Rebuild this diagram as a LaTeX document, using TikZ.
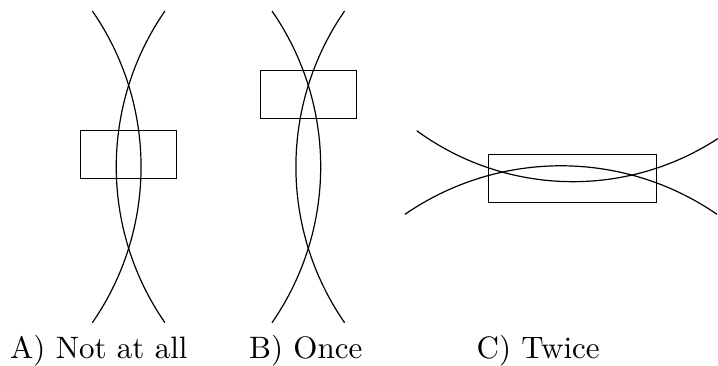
\documentclass[tikz,border=0pt]{standalone}
\begin{document}
\begin{tikzpicture}[x=1pt,y=1pt,
  curve/.style={line width=1.2pt},
  box/.style={draw, line width=1.2pt, inner sep=0pt, outer sep=0pt, minimum height=48pt},
  lab/.style={anchor=base west, inner sep=0pt, font=\fontsize{10}{12}\selectfont, scale=3.1, transform shape}]
\useasboundingbox (0,0) rectangle (718,365);
\clip (0,0) rectangle (718,365);
% Panel A
\coordinate (a1) at (92.35,354);
\coordinate (a2) at (164.95,354);
\draw[curve] (a1) arc[start angle=34.71, end angle=-34.71, radius=273.7];
\draw[curve] (a2) arc[start angle=145.29, end angle=214.71, radius=273.7];
\node[box, minimum width=96pt] (ra) at (128.7,210.15) {};
% Panel B
\coordinate (b1) at (272.0,354);
\coordinate (b2) at (344.6,354);
\draw[curve] (b1) arc[start angle=34.71, end angle=-34.71, radius=273.7];
\draw[curve] (b2) arc[start angle=145.29, end angle=214.71, radius=273.7];
\node[box, minimum width=96.4pt] (rb) at (308.5,270.3) {};
% Panel C
\coordinate (c1) at (416.7,234.3);
\coordinate (c2) at (405,150.7);
\draw[curve] (c1) arc[start angle=-126.14, end angle=-53.86, radius=265];
\draw[curve] (c2) arc[start angle=124.56, end angle=55.44, radius=275];
\node[box, minimum width=168.4pt] (rc) at (572.5,186.7) {};
% Labels
\node[lab] (la) at (9.5,6.5) {A) Not at all};
\node[lab] (lb) at (248.5,6.5) {B) Once};
\node[lab] (lc) at (476,6.5) {C) Twice};
\end{tikzpicture}
\end{document}
